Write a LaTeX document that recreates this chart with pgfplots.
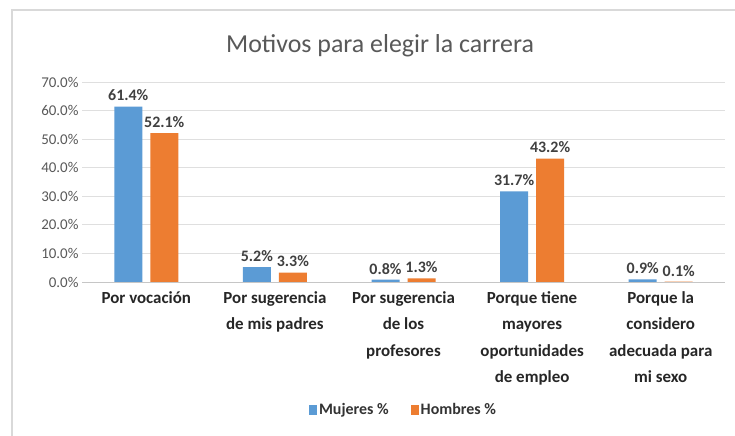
\documentclass[border=0pt]{standalone}
\usepackage{fontspec}
\setmainfont{Carlito}
\usepackage{pgfplots}
\pgfplotsset{compat=1.18}
\definecolor{cblue}{HTML}{5B9BD5}
\definecolor{corange}{HTML}{ED7D31}
\definecolor{txt}{HTML}{595959}
\definecolor{lbl}{HTML}{404040}
\begin{document}
\begin{tikzpicture}
\useasboundingbox[fill=white] (-82bp,-154bp) rectangle (653bp,282bp);
\begin{axis}[
  at={(0,0)}, anchor=south west,
  scale only axis, width=643bp, height=200bp,
  ybar=8bp, bar width=28bp,
  xmin=-0.5, xmax=4.5, ymin=0, ymax=70,
  enlargelimits=false,
  xtick=data,
  xticklabels={Por vocación, Por sugerencia\\de mis padres, Por sugerencia\\de los\\profesores, Porque tiene\\mayores\\oportunidades\\de empleo, Porque la\\considero\\adecuada para\\mi sexo},
  xticklabel style={align=center, font=\fontsize{17}{26.5}\selectfont\bfseries, text=black!85, anchor=north, yshift=-6bp},
  ytick={0,10,...,70},
  yticklabel={\pgfmathprintnumber[fixed,fixed zerofill,precision=1]{\tick}\%},
  yticklabel style={font=\fontsize{15}{17}\selectfont, text=txt},
  /pgf/number format/assume math mode=true,
  major tick length=0pt,
  axis line style={draw=none},
  ymajorgrids, grid style={draw=gray!25, line width=0.8bp},
  axis x line*=bottom,
  nodes near coords={\pgfmathprintnumber[fixed,fixed zerofill,precision=1]{\pgfplotspointmeta}\%},
  nodes near coords style={font=\fontsize{16}{18}\selectfont\bfseries, text=lbl, yshift=2bp},
  point meta=y,
  legend style={at={(0.5,-0.64)}, anchor=center, legend columns=2, draw=none, font=\fontsize{16}{18}\selectfont\bfseries, text=black!80, /tikz/every even column/.append style={column sep=20bp}},
  legend image code/.code={\fill[#1] (0bp,-5bp) rectangle (8bp,5bp);},
]
\addplot[fill=cblue, draw=none] coordinates {(0,61.4) (1,5.2) (2,0.8) (3,31.7) (4,0.9)};
\addplot[fill=corange, draw=none] coordinates {(0,52.1) (1,3.3) (2,1.3) (3,43.2) (4,0.1)};
\legend{Mujeres \%, Hombres \%}
\draw[gray!45, line width=1bp] (axis cs:-0.5,0) -- (axis cs:4.5,0);
\end{axis}
\node[text=txt, font=\fontsize{26}{30}\selectfont] at (298bp,236bp) {Motivos para elegir la carrera};
\draw[gray!30, line width=1.5bp] (653bp,272bp) -- (-70bp,272bp) -- (-70bp,-154bp);
\end{tikzpicture}
\end{document}
